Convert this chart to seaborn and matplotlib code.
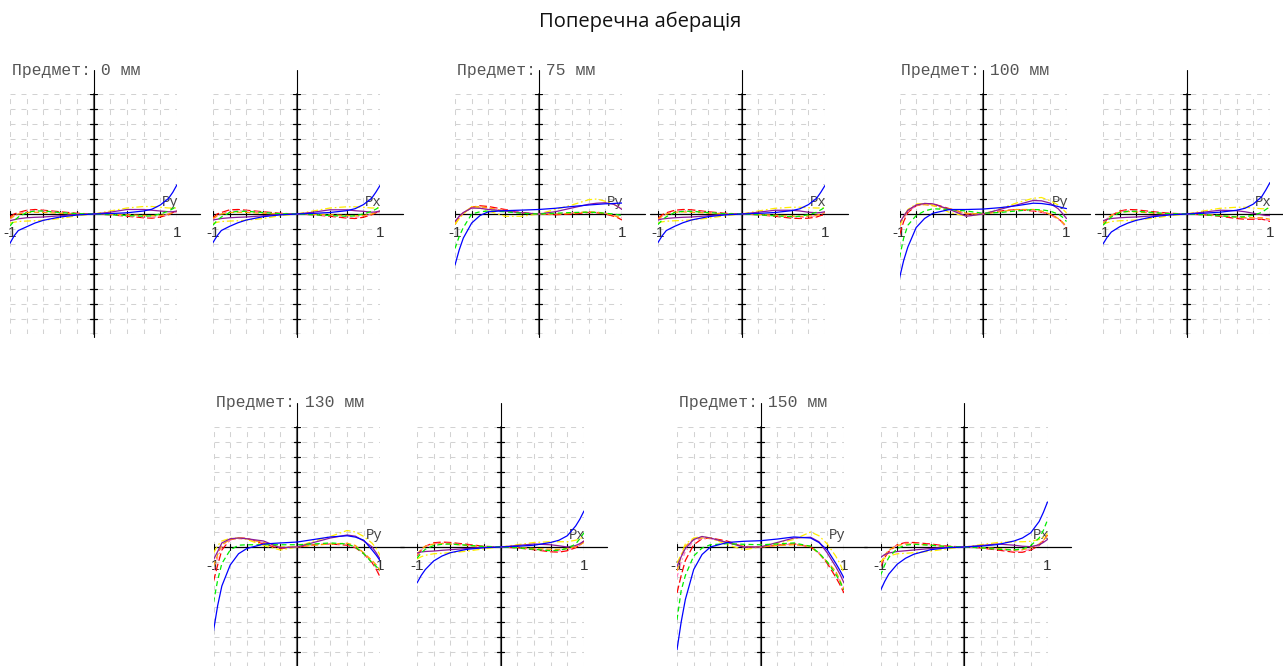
import numpy as np
import pandas as pd
import matplotlib
matplotlib.use("Agg")
import matplotlib.pyplot as plt
import seaborn as sns

# ---------------- data ----------------
TITLE = "Поперечна аберація"
OBJECTS = ["0", "75", "100", "130", "150"]          # object height, mm
PUPIL = [-1, -0.95, -0.9, -0.8, -0.7, -0.6, -0.4, -0.2, 0, 0.2, 0.4, 0.6, 0.7, 0.8, 0.9, 0.95, 1]
RAYS = ["red", "pink", "orange", "yellow", "purple", "green", "blue"]   # draw order

# tangential fans (Py), aberration in grid units
PY_0 = dict(
    blue=[-1.95, -1.45, -1.1, -0.85, -0.6, -0.42, -0.2, -0.07, 0.0, 0.03, 0.08, 0.2, 0.32, 0.6, 1.05, 1.45, 1.95],
    green=[-0.8, -0.45, -0.2, 0.1, 0.2, 0.2, 0.1, 0.02, 0.0, -0.05, -0.1, -0.15, -0.12, 0.0, 0.2, 0.35, 0.55],
    red=[-0.2, 0.0, 0.1, 0.25, 0.3, 0.25, 0.15, 0.05, 0.0, -0.05, -0.15, -0.25, -0.28, -0.2, -0.05, 0.1, 0.2],
    purple=[-0.45, -0.38, -0.32, -0.25, -0.22, -0.2, -0.12, -0.02, 0.0, 0.12, 0.3, 0.3, 0.25, 0.2, 0.15, 0.15, 0.2],
    yellow=[-0.6, -0.55, -0.5, -0.47, -0.45, -0.42, -0.3, -0.12, 0.0, 0.2, 0.4, 0.5, 0.5, 0.45, 0.4, 0.4, 0.4],
    orange=[-0.3, -0.12, 0.0, 0.1, 0.12, 0.1, 0.05, 0.0, 0.0, -0.02, -0.05, -0.1, -0.12, -0.1, 0.0, 0.1, 0.2],
    pink=[-0.35, -0.15, 0.0, 0.18, 0.22, 0.2, 0.1, 0.03, 0.0, -0.04, -0.12, -0.2, -0.22, -0.15, -0.02, 0.08, 0.15],
)
PY_75 = dict(
    blue=[-3.4, -2.4, -1.6, -0.6, -0.1, 0.15, 0.22, 0.26, 0.3, 0.38, 0.5, 0.6, 0.64, 0.68, 0.7, 0.72, 0.73],
    green=[-2.3, -1.5, -0.9, 0.0, 0.15, 0.2, 0.15, 0.05, 0.0, 0.05, 0.1, 0.12, 0.1, 0.05, 0.0, -0.05, -0.1],
    red=[-0.7, -0.25, 0.05, 0.45, 0.55, 0.5, 0.3, 0.1, 0.0, -0.05, 0.0, 0.1, 0.08, 0.0, -0.15, -0.25, -0.4],
    purple=[-0.5, -0.15, 0.1, 0.4, 0.38, 0.3, 0.2, 0.08, 0.0, 0.15, 0.4, 0.65, 0.72, 0.75, 0.65, 0.5, 0.3],
    yellow=[-0.7, -0.3, 0.0, 0.5, 0.4, 0.2, -0.15, -0.15, 0.0, 0.3, 0.6, 0.95, 1.0, 0.85, 0.65, 0.5, 0.4],
    orange=[-0.6, -0.2, 0.1, 0.45, 0.5, 0.4, 0.2, 0.05, 0.0, 0.0, 0.05, 0.15, 0.12, 0.05, -0.1, -0.2, -0.3],
    pink=[-0.6, -0.2, 0.05, 0.4, 0.45, 0.4, 0.25, 0.1, 0.0, 0.0, 0.08, 0.12, 0.1, 0.05, -0.05, -0.15, -0.25],
)
PY_100 = dict(
    blue=[-4.27, -3.1, -2.2, -0.9, -0.3, 0.05, 0.3, 0.3, 0.33, 0.42, 0.55, 0.72, 0.7, 0.62, 0.5, 0.42, 0.36],
    green=[-2.9, -1.6, -0.75, -0.1, 0.2, 0.35, 0.3, 0.2, 0.05, 0.1, 0.2, 0.3, 0.28, 0.2, 0.0, -0.2, -0.5],
    red=[-1.4, -0.5, 0.1, 0.55, 0.7, 0.68, 0.35, 0.0, 0.0, 0.2, 0.3, 0.2, 0.12, 0.0, -0.3, -0.55, -0.93],
    purple=[-0.6, -0.15, 0.25, 0.6, 0.7, 0.68, 0.3, -0.15, 0.0, 0.3, 0.6, 0.9, 0.88, 0.73, 0.35, 0.05, -0.3],
    yellow=[-0.8, -0.2, 0.3, 0.67, 0.7, 0.6, 0.1, -0.15, 0.0, 0.35, 0.73, 1.05, 1.1, 0.9, 0.6, 0.35, 0.07],
    orange=[-0.7, -0.2, 0.25, 0.6, 0.62, 0.55, 0.35, 0.05, 0.0, 0.15, 0.3, 0.3, 0.2, 0.0, -0.3, -0.55, -0.8],
    pink=[-0.9, -0.3, 0.15, 0.55, 0.65, 0.6, 0.3, 0.02, 0.0, 0.18, 0.28, 0.22, 0.12, -0.05, -0.35, -0.6, -0.85],
)
PY_130 = dict(
    blue=[-5.6, -3.9, -2.6, -1.2, -0.45, -0.1, 0.2, 0.27, 0.33, 0.5, 0.67, 0.75, 0.66, 0.45, -0.2, -0.55, -0.95],
    green=[-3.7, -2.2, -1.1, -0.2, 0.12, 0.15, 0.15, 0.15, 0.15, 0.2, 0.27, 0.2, 0.0, -0.45, -1.05, -1.3, -1.6],
    red=[-2.3, -1.2, -0.2, 0.5, 0.6, 0.58, 0.2, -0.1, 0.0, 0.15, 0.2, 0.12, -0.05, -0.45, -1.05, -1.5, -2.05],
    purple=[-0.85, -0.3, 0.27, 0.55, 0.6, 0.55, 0.4, -0.05, 0.0, 0.3, 0.6, 0.8, 0.72, 0.4, 0.0, -0.4, -0.85],
    yellow=[-0.4, 0.1, 0.4, 0.58, 0.6, 0.5, 0.1, -0.2, 0.0, 0.4, 0.7, 1.1, 1.0, 0.7, 0.25, -0.1, -0.6],
    orange=[-1.3, -0.5, 0.15, 0.5, 0.6, 0.55, 0.3, 0.0, 0.0, 0.12, 0.2, 0.25, 0.1, -0.4, -0.9, -1.2, -1.6],
    pink=[-1.6, -0.7, 0.0, 0.45, 0.55, 0.52, 0.28, -0.05, 0.0, 0.15, 0.22, 0.18, 0.0, -0.4, -1.0, -1.4, -1.85],
)
PY_150 = dict(
    blue=[-6.85, -5.0, -3.5, -1.5, -0.5, 0.0, 0.3, 0.38, 0.42, 0.53, 0.67, 0.6, 0.3, -0.2, -1.07, -1.55, -2.07],
    green=[-4.85, -2.9, -1.9, -0.6, -0.07, 0.15, 0.22, 0.18, 0.15, 0.2, 0.27, 0.05, -0.4, -1.0, -1.8, -2.3, -2.85],
    red=[-3.07, -1.9, -0.9, 0.15, 0.55, 0.6, 0.4, 0.0, 0.0, 0.12, 0.22, 0.0, -0.4, -1.1, -2.0, -2.5, -3.07],
    purple=[-1.3, -0.65, -0.1, 0.5, 0.7, 0.6, 0.3, 0.0, 0.0, 0.3, 0.6, 0.65, 0.35, -0.4, -1.3, -1.8, -2.4],
    yellow=[-1.07, -0.5, 0.2, 0.6, 0.7, 0.6, 0.15, -0.18, 0.0, 0.25, 0.5, 1.0, 0.75, 0.2, -0.6, -1.1, -1.73],
    orange=[-1.6, -0.6, 0.05, 0.53, 0.6, 0.6, 0.3, 0.05, 0.0, 0.1, 0.15, 0.05, -0.45, -1.0, -1.6, -2.2, -2.85],
    pink=[-2.0, -1.0, -0.3, 0.4, 0.55, 0.55, 0.3, 0.0, 0.0, 0.12, 0.2, 0.05, -0.4, -1.0, -1.8, -2.3, -2.7],
)

# sagittal fans (Px)
PX_0 = dict(
    blue=[-1.9, -1.45, -1.1, -0.82, -0.58, -0.4, -0.18, -0.06, 0.0, 0.04, 0.1, 0.22, 0.35, 0.62, 1.05, 1.45, 1.9],
    green=[-0.75, -0.42, -0.2, 0.1, 0.18, 0.18, 0.1, 0.02, 0.0, -0.05, -0.1, -0.15, -0.12, 0.0, 0.18, 0.32, 0.5],
    red=[-0.25, 0.0, 0.1, 0.28, 0.3, 0.25, 0.15, 0.05, 0.0, -0.05, -0.15, -0.27, -0.3, -0.22, -0.05, 0.08, 0.2],
    purple=[-0.4, -0.35, -0.3, -0.25, -0.22, -0.2, -0.12, -0.02, 0.0, 0.12, 0.28, 0.28, 0.22, 0.18, 0.12, 0.14, 0.2],
    yellow=[-0.65, -0.55, -0.5, -0.47, -0.45, -0.42, -0.3, -0.12, 0.0, 0.2, 0.4, 0.48, 0.48, 0.45, 0.4, 0.4, 0.42],
    orange=[-0.3, -0.12, 0.0, 0.1, 0.12, 0.1, 0.05, 0.0, 0.0, -0.02, -0.05, -0.1, -0.12, -0.1, 0.0, 0.1, 0.2],
    pink=[-0.35, -0.15, 0.0, 0.18, 0.22, 0.2, 0.1, 0.03, 0.0, -0.04, -0.12, -0.2, -0.22, -0.15, -0.02, 0.08, 0.15],
)
PX_75 = dict(
    blue=[-1.9, -1.45, -1.1, -0.82, -0.58, -0.4, -0.18, -0.06, 0.0, 0.04, 0.1, 0.22, 0.35, 0.62, 1.05, 1.45, 1.9],
    green=[-0.7, -0.4, -0.18, 0.1, 0.18, 0.18, 0.1, 0.02, 0.0, -0.05, -0.12, -0.18, -0.15, -0.05, 0.12, 0.28, 0.45],
    red=[-0.3, -0.05, 0.08, 0.25, 0.3, 0.28, 0.15, 0.05, 0.0, -0.05, -0.15, -0.28, -0.3, -0.28, -0.2, -0.1, -0.05],
    purple=[-0.4, -0.33, -0.3, -0.25, -0.22, -0.2, -0.12, -0.02, 0.0, 0.12, 0.25, 0.25, 0.2, 0.12, 0.08, 0.1, 0.15],
    yellow=[-0.6, -0.52, -0.48, -0.45, -0.43, -0.4, -0.28, -0.12, 0.0, 0.2, 0.38, 0.45, 0.45, 0.42, 0.4, 0.4, 0.42],
    orange=[-0.35, -0.15, 0.0, 0.12, 0.14, 0.12, 0.06, 0.0, 0.0, -0.03, -0.08, -0.14, -0.16, -0.14, -0.08, 0.0, 0.1],
    pink=[-0.4, -0.18, 0.0, 0.18, 0.22, 0.2, 0.1, 0.03, 0.0, -0.04, -0.12, -0.2, -0.24, -0.2, -0.1, 0.0, 0.08],
)
PX_100 = dict(
    blue=[-2.0, -1.55, -1.2, -0.85, -0.6, -0.42, -0.18, -0.06, 0.0, 0.05, 0.12, 0.25, 0.38, 0.66, 1.15, 1.6, 2.1],
    green=[-0.75, -0.45, -0.2, 0.1, 0.18, 0.18, 0.1, 0.02, 0.0, -0.05, -0.12, -0.2, -0.18, -0.08, 0.1, 0.3, 0.5],
    red=[-0.7, -0.35, -0.1, 0.2, 0.3, 0.28, 0.15, 0.05, 0.0, -0.05, -0.15, -0.3, -0.35, -0.35, -0.35, -0.4, -0.5],
    purple=[-0.45, -0.35, -0.3, -0.25, -0.22, -0.2, -0.12, -0.02, 0.0, 0.12, 0.25, 0.22, 0.15, 0.05, -0.05, -0.1, -0.1],
    yellow=[-0.7, -0.58, -0.5, -0.45, -0.43, -0.4, -0.28, -0.12, 0.0, 0.2, 0.38, 0.45, 0.45, 0.4, 0.35, 0.35, 0.4],
    orange=[-0.6, -0.3, -0.08, 0.12, 0.16, 0.14, 0.06, 0.0, 0.0, -0.03, -0.1, -0.2, -0.24, -0.25, -0.25, -0.3, -0.35],
    pink=[-0.65, -0.32, -0.08, 0.15, 0.22, 0.2, 0.1, 0.03, 0.0, -0.04, -0.12, -0.22, -0.28, -0.3, -0.32, -0.38, -0.45],
)
PX_130 = dict(
    blue=[-2.4, -1.9, -1.5, -0.93, -0.6, -0.38, -0.15, -0.05, 0.0, 0.05, 0.12, 0.3, 0.45, 0.75, 1.4, 1.85, 2.4],
    green=[-0.75, -0.4, -0.15, 0.1, 0.18, 0.2, 0.12, 0.03, 0.0, -0.05, -0.15, -0.25, -0.22, -0.1, 0.2, 0.55, 0.95],
    red=[-0.6, -0.2, 0.05, 0.28, 0.33, 0.3, 0.18, 0.05, 0.0, -0.06, -0.18, -0.32, -0.34, -0.25, -0.05, 0.15, 0.4],
    purple=[-0.4, -0.33, -0.3, -0.27, -0.22, -0.18, -0.1, -0.02, 0.0, 0.1, 0.2, 0.15, 0.08, 0.0, 0.1, 0.22, 0.4],
    yellow=[-0.8, -0.65, -0.55, -0.45, -0.42, -0.38, -0.28, -0.12, 0.0, 0.15, 0.3, 0.35, 0.35, 0.35, 0.45, 0.55, 0.7],
    orange=[-0.5, -0.15, 0.05, 0.2, 0.22, 0.2, 0.1, 0.02, 0.0, -0.03, -0.1, -0.15, -0.16, -0.1, 0.02, 0.15, 0.3],
    pink=[-0.55, -0.2, 0.03, 0.22, 0.26, 0.24, 0.12, 0.03, 0.0, -0.05, -0.14, -0.24, -0.26, -0.18, 0.0, 0.12, 0.3],
)
PX_150 = dict(
    blue=[-2.9, -2.3, -1.8, -1.15, -0.75, -0.48, -0.18, -0.05, 0.0, 0.06, 0.16, 0.4, 0.6, 0.95, 1.7, 2.3, 3.0],
    green=[-1.9, -1.2, -0.7, -0.1, 0.12, 0.18, 0.12, 0.03, 0.0, -0.05, -0.15, -0.2, -0.12, 0.1, 0.6, 1.1, 1.8],
    red=[-1.3, -0.7, -0.3, 0.15, 0.3, 0.3, 0.2, 0.06, 0.0, -0.06, -0.2, -0.35, -0.35, -0.2, 0.1, 0.4, 0.8],
    purple=[-0.7, -0.5, -0.4, -0.3, -0.25, -0.2, -0.1, -0.02, 0.0, 0.1, 0.2, 0.12, 0.05, 0.02, 0.15, 0.3, 0.5],
    yellow=[-1.0, -0.75, -0.6, -0.45, -0.42, -0.38, -0.28, -0.12, 0.0, 0.15, 0.3, 0.35, 0.35, 0.38, 0.5, 0.65, 0.9],
    orange=[-1.1, -0.55, -0.2, 0.1, 0.2, 0.2, 0.12, 0.03, 0.0, -0.03, -0.1, -0.2, -0.18, -0.05, 0.2, 0.45, 0.8],
    pink=[-1.2, -0.6, -0.25, 0.12, 0.25, 0.25, 0.15, 0.04, 0.0, -0.05, -0.15, -0.28, -0.28, -0.15, 0.12, 0.42, 0.75],
)

# ---------------- style ----------------
COLORS = dict(blue="#0000ff", green="#00ee00", red="#ff0000", purple="#8b1a9b",
              yellow="#ffee00", orange="#ffa000", pink="#ff80c0")
DASHES = dict(blue="", green=(3.6, 2.4), red=(5.5, 2.2), purple="",
              yellow=(5, 2, 1.2, 2), orange=(4, 2), pink=(3, 2, 1, 2))
GRID_C = "#d2d2d2"

sns.set_theme(style="white")
plt.rcParams["lines.scale_dashes"] = False
plt.rcParams["font.family"] = ["Liberation Mono", "DejaVu Sans"]

W, H = 1283, 666
fig = plt.figure(figsize=(W / 100, H / 100), dpi=100)
fig.patch.set_facecolor("white")

HALF_W = 83.5   # px per unit in x
CELL = 15.0     # px per grid cell in y

# (data, label, axis-centre x px, axis y px, caption text or None, left-extension)
PANELS = [
    (PY_0, "Py", 93.5, 214, OBJECTS[0], 0.0),
    (PX_0, "Px", 296.5, 214, None, 0.0),
    (PY_75, "Py", 538.5, 214, OBJECTS[1], 0.0),
    (PX_75, "Px", 741.5, 214, None, 0.1),
    (PY_100, "Py", 983.0, 214, OBJECTS[2], 0.0),
    (PX_100, "Px", 1186.5, 214, None, 0.1),
    (PY_130, "Py", 297.0, 547, OBJECTS[3], 0.0),
    (PX_130, "Px", 500.5, 547, None, 0.2),
    (PY_150, "Py", 760.5, 547, OBJECTS[4], 0.0),
    (PX_150, "Px", 964.0, 547, None, 0.2),
]

for data, lab, cx, cy, obj, lext in PANELS:
    left = cx - HALF_W
    top = cy - 8 * CELL
    ax = fig.add_axes([left / W, 1 - (cy + 8 * CELL) / H, 2 * HALF_W / W, 16 * CELL / H])
    ax.set_xlim(-1, 1)
    ax.set_ylim(-8, 8)
    ax.axis("off")

    # dashed grid
    for gx in np.linspace(-1, 1, 11):
        ax.plot([gx, gx], [-8, 8], color=GRID_C, lw=0.75, dashes=(3.6, 4.3), zorder=0)
    for gy in range(-8, 9):
        ax.plot([-1, 1], [gy, gy], color=GRID_C, lw=0.75, dashes=(3.6, 4.3), zorder=0)

    # axes lines
    ax.plot([-1 - lext, 1.28], [0, 0], color="black", lw=0.9, clip_on=False, zorder=2)
    ax.plot([0, 0], [-8, 8], color="#6a6a6a", lw=1.5, clip_on=False, zorder=2)
    ax.plot([0, 0], [-8.2, 9.6], color="black", lw=0.8, clip_on=False, zorder=2)
    for gy in range(-8, 9):
        if gy != 0:
            ax.plot([-0.038, 0.038], [gy, gy], color="black", lw=0.9, zorder=2)
    for gx in np.linspace(-1, 1, 11):
        ax.plot([gx, gx], [-0.17, 0.17], color="black", lw=0.8, zorder=2)

    ax.text(-1, -0.8, "-1", ha="center", va="top", fontsize=11,
            family=["Liberation Sans"], color="#333333", zorder=2)
    ax.text(1, -0.8, "1", ha="center", va="top", fontsize=11,
            family=["Liberation Sans"], color="#333333", zorder=2)
    ax.text(0.82, 0.35, lab, ha="left", va="bottom", fontsize=10,
            family=["Liberation Mono"], color="#444444", zorder=2)

    # curves
    rows = []
    for r in RAYS:
        for p, v in zip(PUPIL, data[r]):
            rows.append((p, v, r))
    df = pd.DataFrame(rows, columns=["p", "ab", "ray"])
    sns.lineplot(data=df, x="p", y="ab", hue="ray", style="ray",
                 hue_order=RAYS, style_order=RAYS, palette=COLORS, dashes=DASHES,
                 estimator=None, sort=False, legend=False, lw=0.9, ax=ax, zorder=3)
    ax.set_xlim(-1, 1)
    ax.set_ylim(-8, 8)
    ax.axis("off")

    if obj is not None:
        fig.text((left + 2) / W, 1 - (top - 24) / H, f"Предмет: {obj} мм",
                 ha="left", va="center", fontsize=11.8, family=["Liberation Mono"],
                 color="#555555")

fig.text(640 / W, 1 - 22 / H, TITLE, ha="center", va="center", fontsize=14.5,
         family=["Open Sans", "DejaVu Sans"], color="#111111")

fig.savefig("out.png", dpi=100, facecolor="white")
